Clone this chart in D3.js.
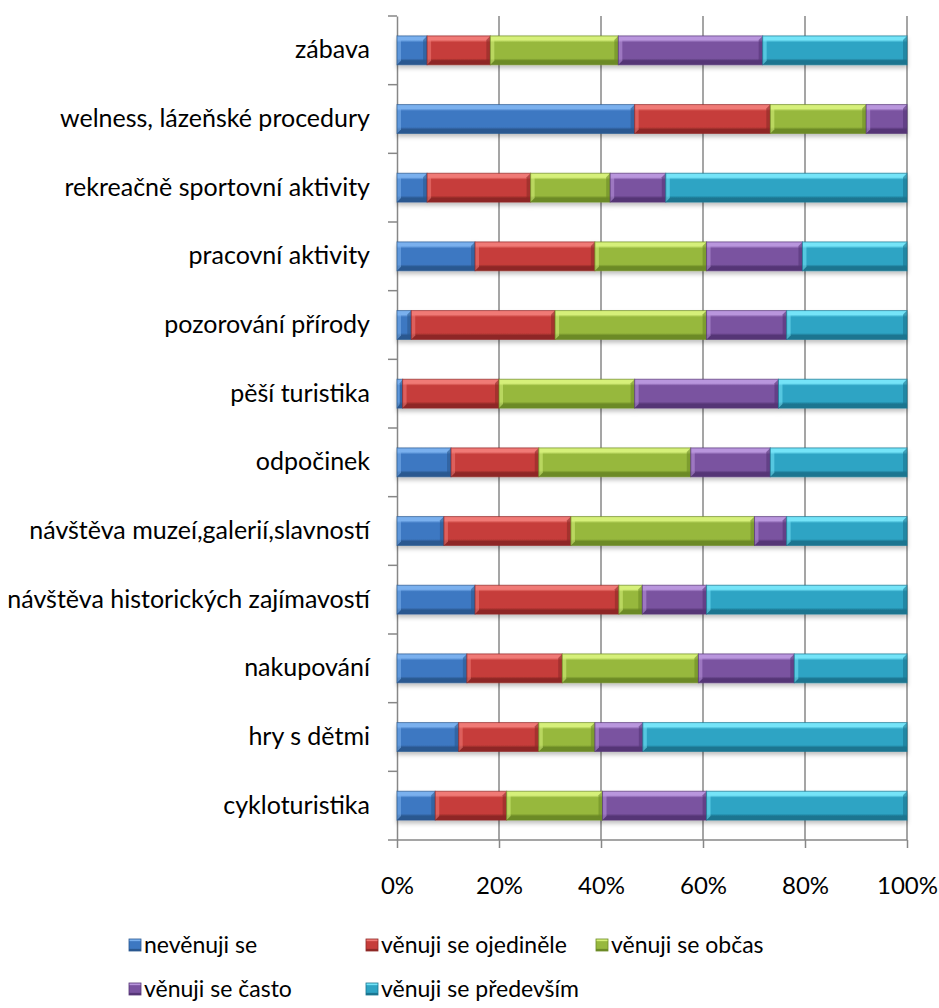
<!DOCTYPE html>
<html>
<head>
<meta charset="utf-8">
<script src="https://cdn.jsdelivr.net/npm/d3@7"></script>
<style>
	body { margin: 0; background: #fff; }
	text { font-family: Lato, "Open Sans", sans-serif; fill: #000; }
</style>
</head>
<body>
<div id="container"></div>
<script>
var width = 939, height = 1008;

var categories = ['zábava', 'welness, lázeňské procedury', 'rekreačně sportovní aktivity',
	'pracovní aktivity', 'pozorování přírody', 'pěší turistika', 'odpočinek',
	'návštěva muzeí,galerií,slavností', 'návštěva historických zajímavostí',
	'nakupování', 'hry s dětmi', 'cykloturistika'];

var seriesNames = ['nevěnuji se', 'věnuji se ojediněle', 'věnuji se občas', 'věnuji se často', 'věnuji se především'];

var nevenuji   = [5.9, 46.6, 5.9, 15.3, 2.8, 1.1, 10.6, 9.2, 15.3, 13.7, 12.1, 7.5];
var ojedinele  = [12.4, 26.6, 20.3, 23.5, 28.2, 18.9, 17.2, 24.9, 28.2, 18.7, 15.7, 14.0];
var obcas      = [25.1, 18.8, 15.6, 21.9, 29.7, 26.6, 29.8, 36.0, 4.6, 26.7, 11.0, 18.8];
var casto      = [28.3, 8.0, 10.9, 18.8, 15.7, 28.2, 15.6, 6.3, 12.6, 18.8, 9.4, 20.4];
var predevsim  = [28.3, 0, 47.3, 20.5, 23.6, 25.2, 26.8, 23.6, 39.3, 22.1, 51.8, 39.3];

var xTicks = [0, 0.2, 0.4, 0.6, 0.8, 1];

// colours: base, light edge, dark edge
var colors = [
	['#3d78c2', '#7ab0ee', '#2a5890'],
	['#c63d3a', '#f07a76', '#8e2826'],
	['#97b83e', '#d6f07a', '#6c8a26'],
	['#7a53a0', '#b996dd', '#553676'],
	['#2ea4c4', '#74e4f8', '#1b7590']
];

var table = categories.map(function(c, i){
	return {cat: c, s0: nevenuji[i], s1: ojedinele[i], s2: obcas[i], s3: casto[i], s4: predevsim[i]};
});
var keys = ['s0', 's1', 's2', 's3', 's4'];
var stacked = d3.stack().keys(keys).offset(d3.stackOffsetExpand)(table);

var xScale = d3.scaleLinear().domain([0, 1]).range([397, 907]);
var yScale = d3.scaleBand().domain(categories).range([16, 840]).paddingInner(0.58).paddingOuter(0.29);

var svg = d3.select('#container').append('svg')
	.attr('width', width)
	.attr('height', height);

var defs = svg.append('defs');
colors.forEach(function(c, i){
	var g = defs.append('linearGradient').attr('id', 'grad' + i)
		.attr('x1', 0).attr('y1', 0).attr('x2', 0).attr('y2', 1);
	g.append('stop').attr('offset', 0).attr('stop-color', c[1]);
	g.append('stop').attr('offset', 0.14).attr('stop-color', c[1]);
	g.append('stop').attr('offset', 0.22).attr('stop-color', c[0]);
	g.append('stop').attr('offset', 0.78).attr('stop-color', c[0]);
	g.append('stop').attr('offset', 0.86).attr('stop-color', c[2]);
	g.append('stop').attr('offset', 1).attr('stop-color', c[2]);
});
var shadow = defs.append('filter').attr('id', 'shadow')
	.attr('x', '-5%').attr('y', '-30%').attr('width', '110%').attr('height', '180%');
shadow.append('feDropShadow').attr('dx', 0).attr('dy', 3).attr('stdDeviation', 2)
	.attr('flood-color', '#000').attr('flood-opacity', 0.25);

// gridlines
svg.append('g').selectAll('line').data(xTicks.slice(1)).enter()
	.append('line')
	.attr('x1', function(d){ return xScale(d); })
	.attr('x2', function(d){ return xScale(d); })
	.attr('y1', 16).attr('y2', 840)
	.attr('stroke', '#878787').attr('stroke-width', 1.5);

// x axis
var xAxis = svg.append('g')
	.attr('transform', 'translate(0,840)')
	.call(d3.axisBottom(xScale).tickValues(xTicks).tickFormat(d3.format('.0%')).tickSize(8).tickSizeOuter(0));
xAxis.select('.domain').remove();
xAxis.append('line').attr('x1', 388).attr('x2', 907).attr('stroke', '#878787').attr('stroke-width', 1.5);
xAxis.selectAll('.tick line').attr('stroke', '#878787').attr('stroke-width', 1.5);
xAxis.selectAll('.tick text')
	.attr('y', 46).attr('dy', '0.35em')
	.style('font-size', '24px').style('font-family', 'Lato, sans-serif').attr('fill', '#000');

// y axis
var yAxis = svg.append('g')
	.attr('transform', 'translate(397,0)')
	.call(d3.axisLeft(yScale).tickSize(0).tickPadding(27));
yAxis.select('.domain').attr('stroke', '#878787').attr('stroke-width', 1.5);
yAxis.selectAll('.tick text')
	.style('font-size', '25px').style('font-family', 'Lato, sans-serif').attr('fill', '#000');
yAxis.selectAll('line.bound').data(d3.range(categories.length)).enter()
	.append('line').attr('class', 'bound')
	.attr('x1', -9).attr('x2', 0)
	.attr('y1', function(i){ return yScale.range()[0] + i * yScale.step(); })
	.attr('y2', function(i){ return yScale.range()[0] + i * yScale.step(); })
	.attr('stroke', '#878787').attr('stroke-width', 1.5);

// bars
var layers = svg.append('g').attr('filter', 'url(#shadow)')
	.selectAll('g').data(stacked).enter()
	.append('g')
	.attr('fill', function(d, i){ return 'url(#grad' + i + ')'; });

layers.selectAll('rect').data(function(d){ return d; }).enter()
	.filter(function(d){ return d[1] - d[0] > 0; })
	.append('rect')
	.attr('x', function(d){ return xScale(d[0]); })
	.attr('y', function(d){ return yScale(d.data.cat); })
	.attr('width', function(d){ return xScale(d[1]) - xScale(d[0]); })
	.attr('height', yScale.bandwidth());

// end bevels
layers.each(function(s, i){
	var g = d3.select(this);
	s.forEach(function(d){
		if (d[1] - d[0] <= 0) return;
		var x0 = xScale(d[0]), x1 = xScale(d[1]), y0 = yScale(d.data.cat), h = yScale.bandwidth();
		var b = Math.min(4, (x1 - x0) / 2);
		g.append('path')
			.attr('d', 'M' + x0 + ',' + y0 + 'L' + (x0 + b) + ',' + (y0 + 4) + 'L' + (x0 + b) + ',' + (y0 + h - 4) + 'L' + x0 + ',' + (y0 + h) + 'Z')
			.attr('fill', colors[i][1]).attr('opacity', 0.55);
		g.append('path')
			.attr('d', 'M' + x1 + ',' + y0 + 'L' + (x1 - b) + ',' + (y0 + 4) + 'L' + (x1 - b) + ',' + (y0 + h - 4) + 'L' + x1 + ',' + (y0 + h) + 'Z')
			.attr('fill', colors[i][2]).attr('opacity', 0.6);
		g.append('rect')
			.attr('x', x0).attr('y', y0).attr('width', x1 - x0).attr('height', h)
			.attr('fill', 'none').attr('stroke', colors[i][2]).attr('stroke-opacity', 0.7).attr('stroke-width', 1);
	});
});

// legend
var legendPos = [[129, 945], [366, 945], [596, 945], [129, 989], [366, 989]];
var legend = svg.append('g').selectAll('g').data(seriesNames).enter()
	.append('g')
	.attr('transform', function(d, i){ return 'translate(' + legendPos[i][0] + ',' + legendPos[i][1] + ')'; });
legend.append('rect')
	.attr('x', 0).attr('y', -6).attr('width', 12).attr('height', 12)
	.attr('fill', function(d, i){ return 'url(#grad' + i + ')'; })
	.attr('stroke', function(d, i){ return colors[i][2]; }).attr('stroke-width', 0.8);
legend.append('text')
	.attr('x', 15).attr('y', 0).attr('dy', '0.35em')
	.style('font-size', '23px')
	.text(function(d){ return d; });
</script>
</body>
</html>
